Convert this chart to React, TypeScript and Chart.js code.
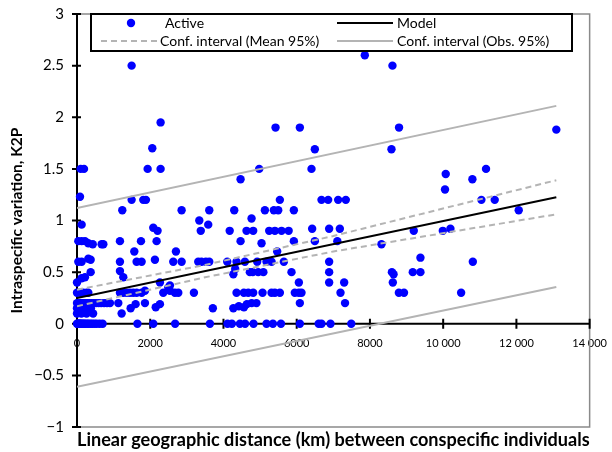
import React, { useEffect, useRef } from 'react';
import { Chart, registerables } from 'chart.js';

Chart.register(...registerables);

const FONT = 'Lato, "Open Sans", "DejaVu Sans", sans-serif';

// [distance (km), K2P]
const activePoints: [number, number][] = [
  // K2P = 0
  [0, 0], [15, 0], [30, 0], [50, 0], [70, 0], [90, 0], [110, 0], [140, 0], [170, 0], [200, 0],
  [240, 0], [280, 0], [320, 0], [370, 0], [420, 0], [480, 0], [540, 0], [620, 0], [700, 0],
  [1650, 0], [2083, 0], [2680, 0], [3630, 0], [4110, 0], [4230, 0], [4450, 0], [4590, 0],
  [4820, 0], [5176, 0], [5350, 0], [5570, 0], [6086, 0], [6600, 0], [6677, 0], [6923, 0], [7490, 0],
  // K2P ~ 0.1 - 0.2
  [0, 0.1], [0, 0.15], [40, 0.12], [80, 0.15], [120, 0.1], [160, 0.13], [210, 0.15], [260, 0.1],
  [320, 0.12], [380, 0.15], [440, 0.1], [1219, 0.1], [1465, 0.15], [1600, 0.19], [2150, 0.16],
  [2265, 0.19], [3710, 0.15], [4270, 0.15], [4420, 0.17], [4560, 0.16], [4640, 0.19], [4770, 0.2],
  [4900, 0.2],
  [0, 0.2], [30, 0.2], [60, 0.2], [100, 0.2], [140, 0.2], [190, 0.2], [240, 0.2], [290, 0.2],
  [340, 0.2], [400, 0.2], [460, 0.2], [520, 0.2], [590, 0.2], [660, 0.2], [740, 0.2], [820, 0.2],
  [900, 0.2], [1128, 0.2], [1856, 0.2], [6086, 0.2], [7320, 0.2],
  // K2P ~ 0.3
  [0, 0.3], [82, 0.3], [173, 0.3], [264, 0.3], [309, 0.3], [1173, 0.3], [1264, 0.3], [1355, 0.3],
  [1446, 0.3], [1537, 0.3], [1628, 0.3], [1765, 0.3], [1856, 0.32], [2356, 0.3], [2493, 0.35],
  [2538, 0.32], [2675, 0.3], [2766, 0.3], [3193, 0.3], [4357, 0.3], [4557, 0.3], [4676, 0.3],
  [4812, 0.3], [5067, 0.3], [5313, 0.3], [5404, 0.3], [5540, 0.3], [5949, 0.3], [6059, 0.3],
  [6131, 0.3], [7196, 0.3], [8790, 0.3], [8930, 0.3], [10490, 0.3],
  // K2P ~ 0.4 - 0.5
  [0, 0.4], [127, 0.44], [218, 0.45], [373, 0.5], [1173, 0.51], [1264, 0.45], [2265, 0.4],
  [2538, 0.37], [4270, 0.48], [4320, 0.53], [4721, 0.5], [4800, 0.5], [4949, 0.5], [5090, 0.5],
  [5858, 0.5], [6886, 0.5], [8600, 0.5], [8645, 0.48], [9170, 0.5], [9379, 0.5], [6059, 0.4],
  [6886, 0.4], [7296, 0.4], [8625, 0.4], [9379, 0.64],
  // K2P ~ 0.6
  [36, 0.6], [127, 0.6], [309, 0.63], [373, 0.62], [1173, 0.6], [1628, 0.6], [1765, 0.6],
  [2128, 0.62], [2629, 0.6], [2857, 0.6], [3311, 0.6], [3400, 0.6], [3520, 0.6], [3612, 0.6],
  [4103, 0.6], [4357, 0.6], [4585, 0.6], [4921, 0.6], [5176, 0.6], [5313, 0.6], [5649, 0.6],
  [6886, 0.6], [10810, 0.6],
  // K2P ~ 0.7 - 0.8
  [1565, 0.7], [2702, 0.7], [5467, 0.7],
  [36, 0.8], [127, 0.8], [218, 0.8], [309, 0.78], [430, 0.77], [673, 0.77], [719, 0.77],
  [1173, 0.8], [1747, 0.8], [2174, 0.8], [4467, 0.8], [5040, 0.78], [5922, 0.8], [6495, 0.8],
  [7110, 0.8], [8315, 0.77],
  // K2P ~ 0.9 - 1.0
  [127, 0.96], [2083, 0.93], [2200, 0.9], [3340, 1.0], [3380, 0.9], [3584, 0.96], [4170, 0.9],
  [4630, 0.9], [4812, 0.9], [5249, 0.9], [5404, 0.9], [5586, 0.9], [5780, 0.9], [6422, 0.92],
  [6886, 0.92], [7178, 0.92], [9197, 0.9], [9990, 0.9], [10198, 0.92], [4767, 1.02],
  // K2P ~ 1.1 - 1.2
  [1237, 1.1], [2857, 1.1], [3612, 1.1], [4294, 1.1], [5131, 1.1], [5376, 1.1], [5495, 1.1],
  [5922, 1.1], [12063, 1.1],
  [82, 1.23], [1492, 1.2], [1810, 1.2], [1883, 1.2], [5540, 1.2], [6677, 1.2], [6859, 1.2],
  [7132, 1.2], [7341, 1.2], [11044, 1.2], [11408, 1.2],
  // K2P > 1.2
  [10050, 1.3], [4467, 1.4], [10798, 1.4], [10070, 1.45], [100, 1.5], [191, 1.5], [1929, 1.5],
  [2283, 1.5], [4976, 1.5], [6404, 1.5], [11170, 1.5], [2056, 1.7], [6495, 1.69], [8588, 1.69],
  [13090, 1.88], [2283, 1.95], [5422, 1.9], [6086, 1.9], [8795, 1.9], [1492, 2.5], [8615, 2.5],
  [7860, 2.6],
];

const modelX = [0, 13090];
const modelY = [0.249, 1.226];

const meanCiX = [0, 3500, 7000, 13090];
const meanCiUpper = [0.33, 0.57, 0.85, 1.39];
const meanCiLower = [0.17, 0.45, 0.70, 1.06];

const obsCiX = [0, 13090];
const obsCiUpper = [1.12, 2.11];
const obsCiLower = [-0.61, 0.355];

const xTickValues = [0, 2000, 4000, 6000, 8000, 10000, 12000, 14000];
const xTickLabels = ['0', '2000', '4000', '6000', '8000', '10 000', '12 000', '14 000'];
const yTickValues = [-1, -0.5, 0, 0.5, 1, 1.5, 2, 2.5, 3];
const yTickLabels = ['\u22121', '\u22120.5', '0', '0.5', '1', '1.5', '2', '2.5', '3'];

const xTitle = 'Linear geographic distance (km) between conspecific individuals';
const yTitle = 'Intraspecific variation, K2P';
const legendLabels = ['Active', 'Model', 'Conf. interval (Mean 95%)', 'Conf. interval (Obs. 95%)'];

const BLUE = '#0000ff';
const CI_GRAY = '#b4b4b4';
const FRAME_GRAY = '#8a8a8a';

const toXY = (xs: number[], ys: number[]) => xs.map((x, i) => ({ x, y: ys[i] }));

const framePlugin = {
  id: 'framePlugin',
  beforeDatasetsDraw(chart: any) {
    const { ctx, chartArea, scales } = chart;
    const { left, right, top, bottom } = chartArea;
    const xs = scales.x;
    const ys = scales.y;
    ctx.save();
    ctx.lineCap = 'butt';
    ctx.strokeStyle = FRAME_GRAY;
    ctx.lineWidth = 1.5;
    ctx.beginPath();
    ctx.moveTo(left, top);
    ctx.lineTo(right, top);
    ctx.lineTo(right, bottom);
    ctx.lineTo(left, bottom);
    ctx.stroke();

    ctx.strokeStyle = '#000';
    ctx.lineWidth = 2;
    ctx.beginPath();
    ctx.moveTo(left, top);
    ctx.lineTo(left, bottom);
    yTickValues.forEach((v) => {
      const py = ys.getPixelForValue(v);
      ctx.moveTo(left - 5, py);
      ctx.lineTo(left + 4, py);
    });
    const y0 = ys.getPixelForValue(0);
    ctx.moveTo(left, y0);
    ctx.lineTo(right, y0);
    xTickValues.forEach((v) => {
      const px = xs.getPixelForValue(v);
      ctx.moveTo(px, y0 - 5);
      ctx.lineTo(px, y0 + 5);
    });
    ctx.stroke();
    ctx.restore();
  },
};

const legendPlugin = {
  id: 'legendPlugin',
  afterDraw(chart: any) {
    const { ctx } = chart;
    ctx.save();
    const bx = 91, by = 14, bw = 481, bh = 37;
    ctx.fillStyle = '#fff';
    ctx.fillRect(bx, by, bw, bh);
    ctx.strokeStyle = '#000';
    ctx.lineWidth = 2;
    ctx.strokeRect(bx, by, bw, bh);

    const r1 = 23, r2 = 41;
    ctx.fillStyle = BLUE;
    ctx.beginPath();
    ctx.arc(131, r1, 4.2, 0, Math.PI * 2);
    ctx.fill();

    ctx.lineWidth = 2;
    ctx.strokeStyle = '#000';
    ctx.beginPath();
    ctx.moveTo(337, r1);
    ctx.lineTo(393, r1);
    ctx.stroke();

    ctx.strokeStyle = CI_GRAY;
    ctx.setLineDash([6, 4]);
    ctx.beginPath();
    ctx.moveTo(101, r2);
    ctx.lineTo(157, r2);
    ctx.stroke();
    ctx.setLineDash([]);
    ctx.beginPath();
    ctx.moveTo(337, r2);
    ctx.lineTo(393, r2);
    ctx.stroke();

    ctx.fillStyle = '#000';
    ctx.font = `14px ${FONT}`;
    ctx.textBaseline = 'middle';
    ctx.textAlign = 'left';
    ctx.fillText(legendLabels[0], 165, r1);
    ctx.fillText(legendLabels[1], 397, r1);
    ctx.fillText(legendLabels[2], 160, r2);
    ctx.fillText(legendLabels[3], 397, r2);
    ctx.restore();
  },
};

export default function App() {
  const canvasRef = useRef<HTMLCanvasElement | null>(null);

  useEffect(() => {
    const canvas = canvasRef.current;
    if (!canvas) return;
    const lineBase = { showLine: true, pointRadius: 0, borderWidth: 2, fill: false, tension: 0, order: 1 };
    const chart = new Chart(canvas, {
      type: 'scatter',
      data: {
        datasets: [
          {
            label: legendLabels[0],
            data: activePoints.map(([x, y]) => ({ x, y })),
            backgroundColor: BLUE,
            borderColor: BLUE,
            pointRadius: 4.2,
            pointBorderWidth: 0,
            clip: false,
            order: 2,
          },
          { ...lineBase, label: legendLabels[1], data: toXY(modelX, modelY), borderColor: '#000' },
          { ...lineBase, label: legendLabels[2], data: toXY(meanCiX, meanCiUpper), borderColor: CI_GRAY, borderDash: [6, 4] },
          { ...lineBase, label: legendLabels[2] + ' lower', data: toXY(meanCiX, meanCiLower), borderColor: CI_GRAY, borderDash: [6, 4] },
          { ...lineBase, label: legendLabels[3], data: toXY(obsCiX, obsCiUpper), borderColor: CI_GRAY },
          { ...lineBase, label: legendLabels[3] + ' lower', data: toXY(obsCiX, obsCiLower), borderColor: CI_GRAY },
        ] as any,
      },
      options: {
        responsive: false,
        animation: false,
        devicePixelRatio: 1,
        layout: { padding: { top: 14, right: 22, bottom: 0, left: 0 } },
        plugins: {
          legend: { display: false },
          tooltip: { enabled: false },
        },
        scales: {
          x: {
            type: 'linear',
            position: 'bottom',
            min: 0,
            max: 14000,
            ticks: { display: false },
            grid: { display: false, drawTicks: false },
            border: { display: false },
            title: {
              display: true,
              text: xTitle,
              color: '#000',
              font: { family: FONT, size: 18.5, weight: 'bold' },
              padding: { top: 0, bottom: 1 },
            },
            afterFit: (s: any) => { s.height = 25; },
          },
          x2: {
            type: 'linear',
            position: { y: 0 } as any,
            min: 0,
            max: 14000,
            ticks: {
              stepSize: 2000,
              autoSkip: false,
              maxRotation: 0,
              color: '#000',
              padding: 5,
              font: { family: FONT, size: 11 },
              callback: (v: any) => {
                const i = xTickValues.indexOf(Number(v));
                return i >= 0 ? xTickLabels[i] : '';
              },
            },
            grid: { display: false, drawTicks: true, tickLength: 8 },
            border: { display: false },
          },
          y: {
            type: 'linear',
            position: 'left',
            min: -1,
            max: 3,
            ticks: {
              stepSize: 0.5,
              color: '#000',
              padding: 5,
              font: { family: FONT, size: 15 },
              callback: (v: any) => {
                const i = yTickValues.indexOf(Number(v));
                return i >= 0 ? yTickLabels[i] : '';
              },
            },
            grid: { display: false, drawTicks: true, tickLength: 8 },
            border: { display: false },
            title: {
              display: true,
              text: yTitle,
              color: '#000',
              font: { family: FONT, size: 15.5, weight: 'bold' },
              padding: { top: 8, bottom: 0 },
            },
            afterFit: (s: any) => { s.width = 77; },
          },
        } as any,
      },
      plugins: [framePlugin, legendPlugin],
    });
    return () => chart.destroy();
  }, []);

  return (
    <div style={{ position: 'fixed', left: 0, top: 0, width: 612, height: 452, background: '#fff' }}>
      <canvas ref={canvasRef} width={612} height={452} style={{ display: 'block' }} />
    </div>
  );
}
